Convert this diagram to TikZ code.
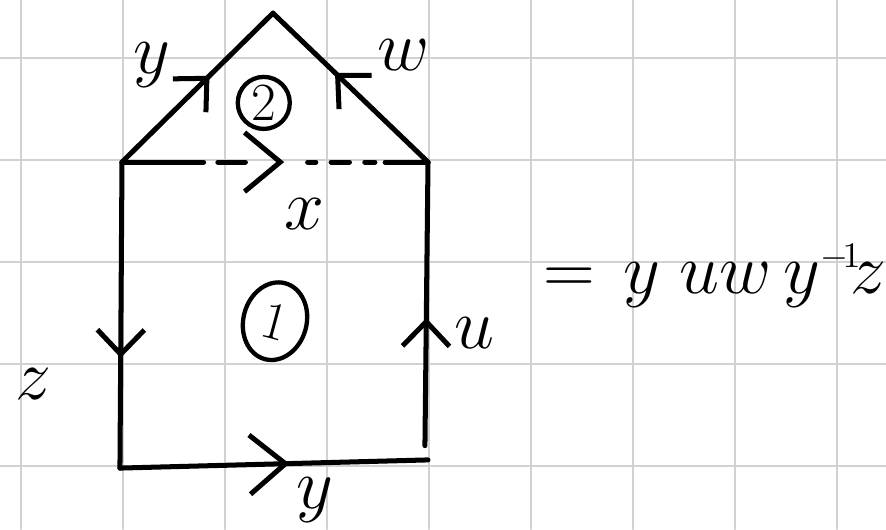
\documentclass[tikz,border=0pt]{standalone}
\usepackage{fix-cm}
\usepackage{tikz}
\usetikzlibrary{arrows.meta,decorations.markings,shapes.geometric}

\begin{document}
\begin{tikzpicture}[>={Straight Barb[length=2.4mm,width=4.6mm]}, line width=1.4pt, line cap=round,
 side/.style={draw, postaction={decorate, decoration={markings, mark=at position #1 with {\arrow{>}}}}},
 wide/.style={>={Straight Barb[length=3.5mm,width=5.8mm]}},
 lbl/.style={font=\fontsize{20}{24}\selectfont, inner sep=0pt},
 face/.style={draw, circle, line width=1.2pt, minimum size=5.1mm, inner sep=0pt, font=\fontsize{15}{18}\selectfont}]
\useasboundingbox (-0.206,-4.618) rectangle (8.48,0.569);
\draw[black!18, line width=0.8pt] (-0.206,-4.618) grid (8.48,0.569);
% corners of the square and the roof
\coordinate (bl) at (0.97,-4.02);
\coordinate (br) at (3.99,-3.94);
\coordinate (rb) at (3.96,-3.80);
\coordinate (tl) at (0.99,-1.02);
\coordinate (tr) at (3.99,-1.02);
\coordinate (top) at (2.47,0.44);
\draw[side=0.58] (tl) -- (top);
\draw[side=0.6] (tr) -- (top);
\draw[side=0.53, wide, dash pattern=on 8mm off 1.4mm on 2.7mm off 6.1mm on 0.8mm off 1.5mm on 1.8mm off 1.5mm on 1mm off 1mm on 4.5mm off 1mm] (tl) -- (tr);
\draw[side=0.64] (tl) -- (bl);
\draw[side=0.55, wide] (bl) -- (br);
\draw[side=0.45] (rb) -- (tr);
% labels
\node[lbl] (ly1) at (1.28,-0.07) {$y$};
\node[lbl] (lw) at (3.75,0.03) {$w$};
\node[lbl] (lx) at (2.78,-1.53) {$x$};
\node[lbl] (lz) at (0.12,-3.2) {$z$};
\node[lbl] (lu) at (4.45,-2.7) {$u$};
\node[lbl] (ly2) at (2.88,-4.33) {$y$};
\node[face] (f2) at (2.38,-0.44) {2};
\node[face, ellipse, minimum width=6.2mm, minimum height=7.7mm, rotate=-15] (f1) at (2.49,-2.58) {1};
\node[lbl, anchor=base west] (eq) at (5.10,-2.31) {$=\mskip2mu y\mskip5mu u w\,y^{\scriptscriptstyle -\!1}\!z$};
\end{tikzpicture}
\end{document}
